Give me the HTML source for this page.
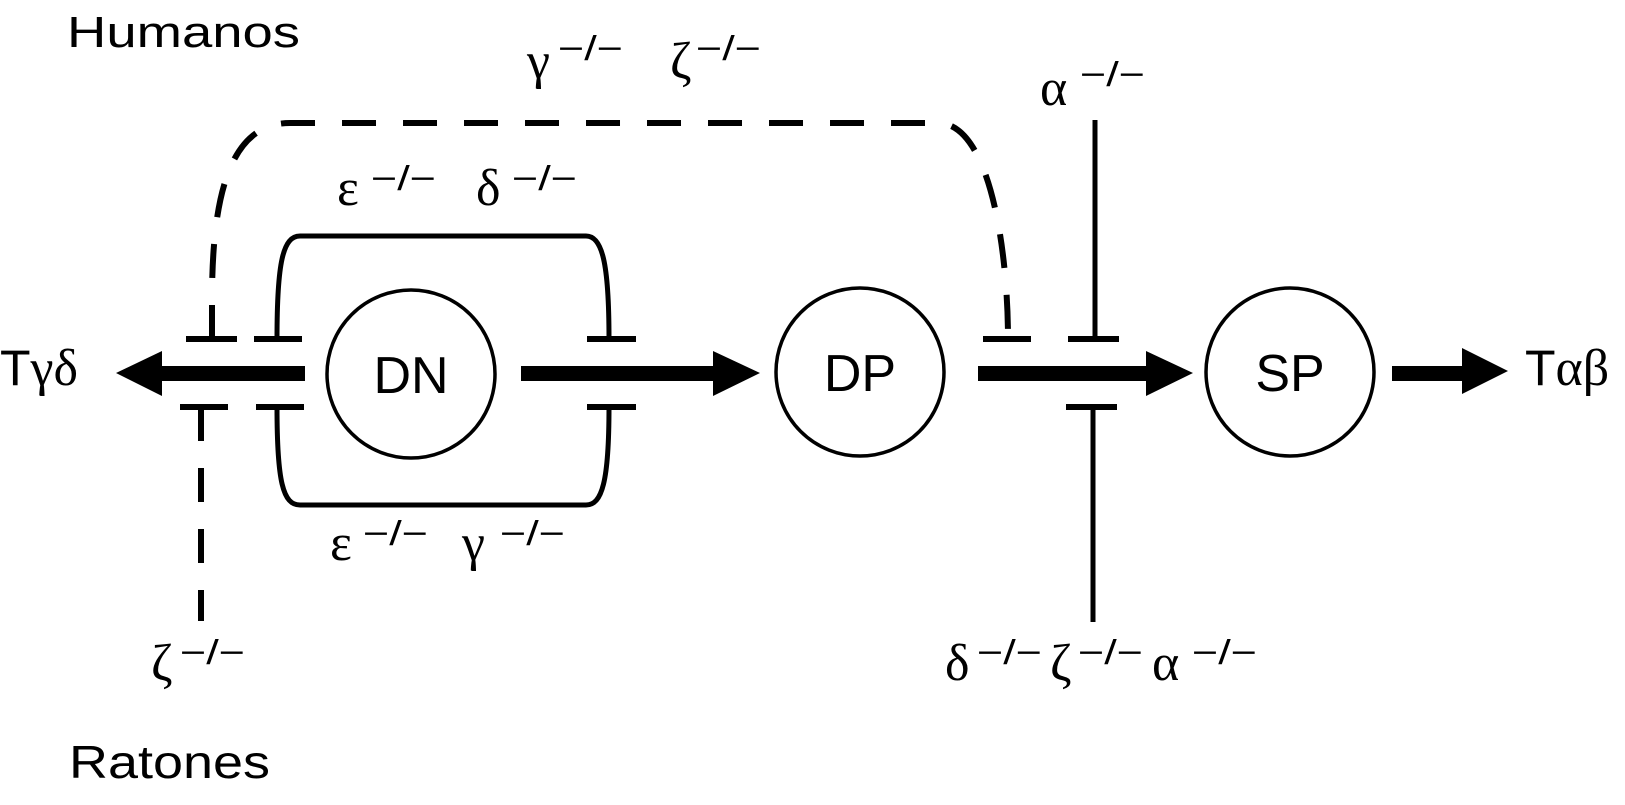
<!DOCTYPE html>
<html><head><meta charset="utf-8"><style>
html,body{margin:0;padding:0;background:#fff}
svg{display:block}
.s{font-family:"Liberation Sans",sans-serif}
.g{font-family:"Liberation Serif",serif;font-size:52px}
.sup{font-family:"Liberation Sans",sans-serif;font-size:34px}
</style></head><body>
<svg width="1625" height="805" viewBox="0 0 1625 805" xmlns="http://www.w3.org/2000/svg">
<g fill="none" stroke="#000">
 <!-- dashed human path -->
 <path d="M212 339 L212 300 C212 200 228 123 290 123 L938 123 C990 123 1008 250 1008 339" stroke-width="6" stroke-dasharray="34 27"/>
 <!-- dashed mouse -->
 <path d="M201 407 V621" stroke-width="6" stroke-dasharray="34 27"/>
 <!-- solid brackets -->
 <path d="M277 339 C277 262 283 236 300 236 L586 236 C602 236 609 262 609 339" stroke-width="5"/>
 <path d="M277 407 C277 482 283 505 300 505 L586 505 C602 505 609 482 609 407" stroke-width="5"/>
 <!-- alpha stems -->
 <path d="M1095 120 V339 M1093 407 V622" stroke-width="5"/>
 <!-- bars -->
 <path d="M186 339H237 M254 339H302 M587 339H636 M983 339H1031 M1068 339H1119 M180 407H228 M256 407H304 M587 407H636 M1066 407H1117" stroke-width="6"/>
 <!-- circles -->
 <circle cx="411" cy="374" r="84" stroke-width="3.5"/>
 <circle cx="860" cy="372" r="84" stroke-width="3.5"/>
 <circle cx="1290" cy="372" r="84" stroke-width="3.5"/>
</g>
<g fill="#000">
 <rect x="160" y="366" width="145" height="15"/><polygon points="116,373 162,351 162,396"/>
 <rect x="521" y="366" width="194" height="15"/><polygon points="760,373 713,351 713,396"/>
 <rect x="978" y="366" width="170" height="15"/><polygon points="1193,373 1146,351 1146,396"/>
 <rect x="1392" y="366" width="72" height="15"/><polygon points="1508,371 1462,348 1462,394"/>
</g>
<g fill="#000">
 <text class="s" x="411" y="393" font-size="52" text-anchor="middle">DN</text>
 <text class="s" x="860" y="391" font-size="52" text-anchor="middle">DP</text>
 <text class="s" x="1290" y="391" font-size="52" text-anchor="middle">SP</text>
 <text class="s" x="67" y="47" font-size="44" textLength="233" lengthAdjust="spacingAndGlyphs">Humanos</text>
 <text class="s" x="69" y="778" font-size="46" textLength="201" lengthAdjust="spacingAndGlyphs">Ratones</text>
 <text x="0" y="385"><tspan class="s" font-size="50">T</tspan><tspan class="g" font-size="50">γδ</tspan></text>
 <text x="1525" y="385"><tspan class="s" font-size="50">T</tspan><tspan class="g" font-size="50">αβ</tspan></text>

 <text class="g" x="527" y="78">γ</text><text class="sup" x="558" y="60" textLength="65" lengthAdjust="spacingAndGlyphs">−/−</text>
 <text class="g" x="670" y="78">ζ</text><text class="sup" x="696" y="60" textLength="65" lengthAdjust="spacingAndGlyphs">−/−</text>
 <text class="g" x="1040" y="105">α</text><text class="sup" x="1080" y="86" textLength="65" lengthAdjust="spacingAndGlyphs">−/−</text>
 <text class="g" x="337" y="205">ε</text><text class="sup" x="371" y="190" textLength="65" lengthAdjust="spacingAndGlyphs">−/−</text>
 <text class="g" x="476" y="205">δ</text><text class="sup" x="512" y="190" textLength="65" lengthAdjust="spacingAndGlyphs">−/−</text>
 <text class="g" x="330" y="560">ε</text><text class="sup" x="363" y="545" textLength="65" lengthAdjust="spacingAndGlyphs">−/−</text>
 <text class="g" x="462" y="560">γ</text><text class="sup" x="500" y="545" textLength="65" lengthAdjust="spacingAndGlyphs">−/−</text>
 <text class="g" x="151" y="680">ζ</text><text class="sup" x="180" y="664" textLength="65" lengthAdjust="spacingAndGlyphs">−/−</text>
 <text class="g" x="945" y="680">δ</text><text class="sup" x="977" y="664" textLength="65" lengthAdjust="spacingAndGlyphs">−/−</text>
 <text class="g" x="1050" y="680">ζ</text><text class="sup" x="1078" y="664" textLength="65" lengthAdjust="spacingAndGlyphs">−/−</text>
 <text class="g" x="1152" y="680">α</text><text class="sup" x="1192" y="664" textLength="65" lengthAdjust="spacingAndGlyphs">−/−</text>
</g>
</svg>
</body></html>
